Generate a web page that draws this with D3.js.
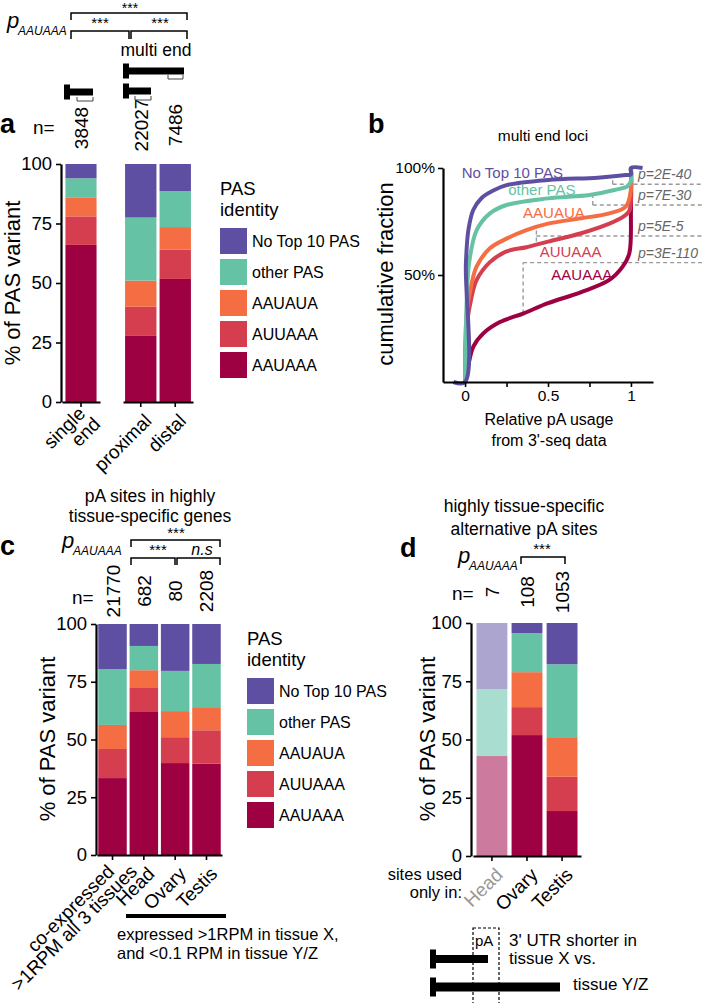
<!DOCTYPE html>
<html>
<head>
<meta charset="utf-8">
<script src="https://cdn.jsdelivr.net/npm/d3@7"></script>
<style>
  body { margin: 0; background: #fff; }
  svg { font-family: "Liberation Sans", Arial, Helvetica, sans-serif; }
</style>
</head>
<body>
<script>
// ---- shared ----
const PAS_KEYS = ["AAUAAA", "AUUAAA", "AAUAUA", "other PAS", "No Top 10 PAS"];
const PAS_COLORS = ["#9e0142", "#d53e4f", "#f46d43", "#66c2a5", "#5e4fa2"];
const PAS_FADED = ["#cc7a9d", "#e59ea7", "#f9b6a1", "#a9ddd0", "#aba5d0"];
const PCT_TICKS = [0, 25, 50, 75, 100];

// ---- panel a ----
const aCats = ["single end", "proximal", "distal"];
const aN = ["3848", "22027", "7486"];
const aAAUAAA = [66, 28, 51.7];
const aAUUAAA = [12, 12, 12.3];
const aAAUAUA = [8, 11, 9.5];
const aOther = [8, 26.5, 15.1];
const aNoTop = [6, 22.5, 11.4];

// ---- panel b (cumulative fraction, [relative usage, %]) ----
const cdfAAUAAA = [[0, 0], [0.01, 4], [0.05, 16.5], [0.11, 22.7], [0.21, 28], [0.35, 32], [0.5, 36.8], [0.7, 42], [0.87, 47.7], [0.95, 53.9], [0.99, 60], [1, 80], [1, 100]];
const cdfAUUAAA = [[0, 0], [0.01, 26], [0.04, 40], [0.07, 47.7], [0.15, 56], [0.25, 61], [0.37, 63], [0.5, 65.6], [0.7, 69.5], [0.87, 74], [0.95, 77], [0.99, 80], [1, 85], [1, 100]];
const cdfAAUAUA = [[0, 0], [0.01, 32], [0.04, 46], [0.07, 54], [0.15, 62.5], [0.25, 67], [0.37, 71], [0.5, 74], [0.7, 76.5], [0.87, 78.8], [0.97, 82], [1, 90], [1, 100]];
const cdfOther = [[0, 0], [0.01, 38], [0.025, 56], [0.07, 71], [0.15, 78.8], [0.25, 82.7], [0.5, 85.8], [0.75, 87.4], [0.9, 89.7], [0.98, 91.5], [1, 94], [1, 100]];
const cdfNoTop = [[-0.07, 0], [0, 0], [0.005, 55], [0.02, 71], [0.05, 80.5], [0.1, 86], [0.17, 89.5], [0.25, 92], [0.5, 94.4], [0.8, 95.5], [0.97, 96.7], [1, 97], [1, 100], [1.07, 100]];
const cdfSeries = [cdfAAUAAA, cdfAUUAAA, cdfAAUAUA, cdfOther, cdfNoTop];
const cdfLabelAt = [[0.52, 47.7], [0.45, 58.4], [0.35, 76.6], [0.26, 87.4], [-0.02, 95.3]];
const pLabels = ["p=2E-40", "p=7E-30", "p=5E-5", "p=3E-110"];
const pX = [0.89, 0.77, 0.43, 0.35];
const pLow = [92.4, 82.7, 65.6, 32];
const pHigh = [96.7, 87.4, 71.8, 55.8];
const pLevel = [92.4, 82.7, 68.2, 55.8];

// ---- panel c ----
const cCats = ["co-expressed", "Head", "Ovary", "Testis"];
const cN = ["21770", "682", "80", "2208"];
const cAAUAAA = [33.3, 61.9, 39.8, 39.6];
const cAUUAAA = [12.6, 10.4, 11.2, 14.4];
const cAAUAUA = [10.4, 7.7, 11.3, 10];
const cOther = [24.2, 10.5, 17.4, 18.7];
const cNoTop = [19.5, 9.5, 20.3, 17.3];

// ---- panel d ----
const dCats = ["Head", "Ovary", "Testis"];
const dN = ["7", "108", "1053"];
const dAAUAAA = [42.9, 51.9, 19.3];
const dAUUAAA = [0, 12, 14.7];
const dAAUAUA = [0, 15, 17];
const dOther = [28.6, 16.8, 31.3];
const dNoTop = [28.5, 4.3, 17.7];

function makeRows(cats, s0, s1, s2, s3, s4) {
  return cats.map((c, i) => {
    const r = { cat: c };
    [s0, s1, s2, s3, s4].forEach((s, k) => (r[PAS_KEYS[k]] = s[i]));
    return r;
  });
}

const svg = d3.select("body").append("svg").attr("width", 702).attr("height", 1003);

function txt(g, x, y, s, size, opts = {}) {
  return g.append("text")
    .attr("x", x).attr("y", y)
    .attr("font-size", size + "px")
    .attr("text-anchor", opts.anchor || "start")
    .attr("font-style", opts.italic ? "italic" : null)
    .attr("font-weight", opts.bold ? "bold" : null)
    .attr("fill", opts.fill || "#000")
    .text(s);
}

function bracket(g, x1, x2, y, tick) {
  g.append("path")
    .attr("d", `M${x1},${y + tick}V${y}H${x2}V${y + tick}`)
    .attr("fill", "none").attr("stroke", "#000").attr("stroke-width", 1.5);
}

function pLabel(g, x, y) {
  txt(g, x, y, "p", 22, { italic: true });
  txt(g, x + 11, y + 7, "AAUAAA", 12, { italic: true });
}

function drawBars(g, rows, x, y, colorFor) {
  const series = d3.stack().keys(PAS_KEYS)(rows);
  series.forEach((s, si) => {
    g.append("g").selectAll("rect").data(s).join("rect")
      .attr("x", d => x(d.data.cat))
      .attr("width", x.bandwidth())
      .attr("y", d => y(d[1]))
      .attr("height", d => Math.max(0, y(d[0]) - y(d[1])))
      .attr("fill", d => colorFor(d.data.cat, si));
  });
}

function styleAxis(ax, size) {
  ax.attr("font-family", null).attr("font-size", null);
  ax.select(".domain").attr("stroke-width", 2.2);
  ax.selectAll(".tick line").attr("stroke-width", 1.6);
  ax.selectAll(".tick text").attr("font-size", size + "px").attr("fill", "#000");
}

function yAxis(g, y, x0) {
  const ax = g.append("g").attr("transform", `translate(${x0},0)`)
    .call(d3.axisLeft(y).tickValues(PCT_TICKS).tickSize(5).tickSizeOuter(0).tickPadding(4));
  styleAxis(ax, 18.5);
}

function xAxis(g, x, y0) {
  const ax = g.append("g").attr("transform", `translate(0,${y0})`)
    .call(d3.axisBottom(x).tickSize(5).tickSizeOuter(0).tickFormat(""));
  styleAxis(ax, 18);
}

// rotated category label; shifts pull earlier lines back along the text
function rotLabel(g, cx, y0, lines, fill, shifts, off, lh) {
  const o = off || [12, 20];
  const step = lh || 15;
  const t = g.append("g").attr("transform", `translate(${cx + o[0]},${y0 + o[1]}) rotate(-45)`);
  lines.forEach((l, i) => {
    t.append("text").attr("x", shifts ? shifts[i] : 0).attr("y", (i - (lines.length - 1) / 2) * step)
      .attr("text-anchor", "end").attr("font-size", "19px").attr("fill", fill || "#000").text(l);
  });
}

function nLabels(g, cats, ns, x, yMid) {
  cats.forEach((c, i) => {
    const cx = x(c) + x.bandwidth() / 2 + 7;
    g.append("text").attr("transform", `translate(${cx},${yMid}) rotate(-90)`)
      .attr("text-anchor", "middle").attr("font-size", "19px").text(ns[i]);
  });
}

function legend(g, x0, y0) {
  txt(g, x0, y0, "PAS", 18.5);
  txt(g, x0, y0 + 21, "identity", 18.5);
  PAS_KEYS.slice().reverse().forEach((k, i) => {
    const yy = y0 + 33 + i * 31;
    g.append("rect").attr("x", x0).attr("y", yy).attr("width", 27).attr("height", 26)
      .attr("fill", PAS_COLORS[PAS_KEYS.indexOf(k)]);
    txt(g, x0 + 32, yy + 19, k, 16);
  });
}

function geneModel(g, x, y, len, h, blockH) {
  g.append("rect").attr("x", x).attr("y", y - blockH / 2).attr("width", 6).attr("height", blockH).attr("fill", "#000");
  g.append("rect").attr("x", x).attr("y", y - h / 2).attr("width", len).attr("height", h).attr("fill", "#000");
}

function utrMark(g, x1, x2, y) {
  g.append("path").attr("d", `M${x1},${y}V${y + 4}H${x2}V${y}`)
    .attr("fill", "none").attr("stroke", "#444").attr("stroke-width", 1);
}

// ================= panel a =================
const ga = svg.append("g");
const yA = d3.scaleLinear().domain([0, 100]).range([402, 164]);
const xA1 = d3.scaleBand().domain(aCats.slice(0, 1)).range([62, 100]).paddingInner(0.1).paddingOuter(0.1);
const xA2 = d3.scaleBand().domain(aCats.slice(1)).range([123, 193]).paddingInner(0.09).paddingOuter(0.06);
const aRows = makeRows(aCats, aAAUAAA, aAUUAAA, aAAUAUA, aOther, aNoTop);
drawBars(ga, aRows.slice(0, 1), xA1, yA, (c, si) => PAS_COLORS[si]);
drawBars(ga, aRows.slice(1), xA2, yA, (c, si) => PAS_COLORS[si]);
yAxis(ga, yA, 61);
xAxis(ga, xA1, 402);
xAxis(ga, xA2, 402);
rotLabel(ga, xA1("single end") + xA1.bandwidth() / 2, 402, ["single", "end"], null, [-3, 0], [14, 17], 18);
rotLabel(ga, xA2("proximal") + xA2.bandwidth() / 2, 402, ["proximal"]);
rotLabel(ga, xA2("distal") + xA2.bandwidth() / 2, 402, ["distal"]);
ga.append("text").attr("transform", "translate(20,283) rotate(-90)")
  .attr("text-anchor", "middle").attr("font-size", "22px").text("% of PAS variant");
txt(ga, 0, 133, "a", 27, { bold: true });
txt(ga, 33, 134, "n=", 19);
nLabels(ga, aCats.slice(0, 1), aN.slice(0, 1), xA1, 128);
nLabels(ga, aCats.slice(1), aN.slice(1), xA2, 125);
legend(ga, 220, 195);
// significance brackets
pLabel(ga, 7, 28);
bracket(ga, 71, 187, 13, 7);
bracket(ga, 71, 129, 31, 8);
bracket(ga, 131, 187, 31, 8);
txt(ga, 130, 13, "***", 14, { anchor: "middle" });
txt(ga, 100, 28, "***", 15, { anchor: "middle" });
txt(ga, 160, 28, "***", 15, { anchor: "middle" });
txt(ga, 156, 56, "multi end", 17.5, { anchor: "middle" });
geneModel(ga, 123, 71, 61, 7, 15);
utrMark(ga, 168, 183, 75);
geneModel(ga, 123, 91, 28, 7, 15);
utrMark(ga, 135, 151, 96);
geneModel(ga, 64, 92, 29, 7, 15);
utrMark(ga, 77, 93, 97);

// ================= panel b =================
const gb = svg.append("g");
const xB = d3.scaleLinear().domain([-0.133, 1.133]).range([443, 653]);
const yB = d3.scaleLinear().domain([0, 100]).range([382, 168]);
txt(gb, 368, 133, "b", 27, { bold: true });
txt(gb, 543, 141, "multi end loci", 15.5, { anchor: "middle" });
// dashed guides
pLabels.forEach((l, i) => {
  gb.append("line").attr("x1", xB(pX[i])).attr("x2", xB(pX[i]))
    .attr("y1", yB(pLow[i])).attr("y2", yB(pHigh[i]))
    .attr("stroke", "#9a9a9a").attr("stroke-width", 1.4).attr("stroke-dasharray", "4,3");
  gb.append("line").attr("x1", xB(pX[i])).attr("x2", 702)
    .attr("y1", yB(pLevel[i])).attr("y2", yB(pLevel[i]))
    .attr("stroke", "#9a9a9a").attr("stroke-width", 1.4).attr("stroke-dasharray", "4,3");
  txt(gb, 638, yB(pLevel[i]) - 5, l, 14, { italic: true, fill: "#666" });
});
const lineB = d3.line().x(d => xB(d[0])).y(d => yB(d[1])).curve(d3.curveCatmullRom.alpha(0.5));
cdfSeries.forEach((s, i) => {
  gb.append("path").attr("d", lineB(s)).attr("fill", "none")
    .attr("stroke", PAS_COLORS[i]).attr("stroke-width", 4).attr("stroke-linejoin", "round");
});
PAS_KEYS.forEach((k, i) => {
  txt(gb, xB(cdfLabelAt[i][0]), yB(cdfLabelAt[i][1]), k, 15, { fill: PAS_COLORS[i] });
});
const axBy = gb.append("g").attr("transform", "translate(443,0)")
  .call(d3.axisLeft(yB).tickValues([50, 100]).tickFormat(d => d + "%").tickSize(5).tickSizeOuter(0));
styleAxis(axBy, 15.5);
const axBx = gb.append("g").attr("transform", "translate(0,382)")
  .call(d3.axisBottom(xB).tickValues([0, 0.25, 0.5, 0.75, 1])
    .tickFormat(d => (d === 0 || d === 0.5 || d === 1 ? String(d) : "")).tickSize(5).tickSizeOuter(0));
styleAxis(axBx, 15.5);
gb.append("text").attr("transform", "translate(393,274) rotate(-90)")
  .attr("text-anchor", "middle").attr("font-size", "22px").text("cumulative fraction");
txt(gb, 549, 425, "Relative pA usage", 16, { anchor: "middle" });
txt(gb, 549, 446, "from 3'-seq data", 16, { anchor: "middle" });

// ================= panel c =================
const gc = svg.append("g");
const yC = d3.scaleLinear().domain([0, 100]).range([855, 624]);
const xC = d3.scaleBand().domain(cCats).range([97, 222]).paddingInner(0.09).paddingOuter(0.04);
drawBars(gc, makeRows(cCats, cAAUAAA, cAUUAAA, cAAUAUA, cOther, cNoTop), xC, yC, (c, si) => PAS_COLORS[si]);
yAxis(gc, yC, 96);
xAxis(gc, xC, 855);
rotLabel(gc, xC("co-expressed") + xC.bandwidth() / 2, 855, ["co-expressed", ">1RPM all 3 tissues"], null, [-16, 0], [20, 12], 16);
["Head", "Ovary", "Testis"].forEach(c => rotLabel(gc, xC(c) + xC.bandwidth() / 2, 855, [c]));
gc.append("text").attr("transform", "translate(55,739) rotate(-90)")
  .attr("text-anchor", "middle").attr("font-size", "22px").text("% of PAS variant");
txt(gc, 150, 502, "pA sites in highly", 17.5, { anchor: "middle" });
txt(gc, 150, 522, "tissue-specific genes", 17.5, { anchor: "middle" });
txt(gc, 0, 555, "c", 27, { bold: true });
pLabel(gc, 62, 548);
bracket(gc, 131, 220, 540, 7);
bracket(gc, 131, 175, 558, 7);
bracket(gc, 177, 220, 558, 7);
txt(gc, 176, 538, "***", 15, { anchor: "middle" });
txt(gc, 158, 555, "***", 15, { anchor: "middle" });
txt(gc, 202, 555, "n.s", 16, { anchor: "middle", italic: true });
txt(gc, 72, 604, "n=", 19);
nLabels(gc, cCats, cN, xC, 591);
legend(gc, 247, 645);
gc.append("rect").attr("x", 126).attr("y", 914).attr("width", 100).attr("height", 4).attr("fill", "#000");
txt(gc, 117, 940, "expressed >1RPM in tissue X,", 16.5);
txt(gc, 117, 959, "and <0.1 RPM in tissue Y/Z", 16.5);

// ================= panel d =================
const gd = svg.append("g");
const yD = d3.scaleLinear().domain([0, 100]).range([856, 623]);
const xD = d3.scaleBand().domain(dCats).range([473, 581]).paddingInner(0.12).paddingOuter(0.1);
drawBars(gd, makeRows(dCats, dAAUAAA, dAUUAAA, dAAUAUA, dOther, dNoTop), xD, yD,
  (c, si) => (c === "Head" ? PAS_FADED[si] : PAS_COLORS[si]));
yAxis(gd, yD, 471);
xAxis(gd, xD, 856);
dCats.forEach(c => rotLabel(gd, xD(c) + xD.bandwidth() / 2, 856, [c], c === "Head" ? "#999" : "#000"));
gd.append("text").attr("transform", "translate(435,739) rotate(-90)")
  .attr("text-anchor", "middle").attr("font-size", "22px").text("% of PAS variant");
txt(gd, 524, 512, "highly tissue-specific", 17.5, { anchor: "middle" });
txt(gd, 524, 535, "alternative pA sites", 17.5, { anchor: "middle" });
txt(gd, 400, 557, "d", 27, { bold: true });
pLabel(gd, 458, 563);
bracket(gd, 521, 565, 557, 7);
txt(gd, 542, 554, "***", 15, { anchor: "middle" });
txt(gd, 452, 600, "n=", 19);
nLabels(gd, dCats, dN, xD, 592);
txt(gd, 462, 880, "sites used", 16.5, { anchor: "end" });
txt(gd, 462, 898, "only in:", 16.5, { anchor: "end" });
// 3' UTR sketch
geneModel(gd, 430, 959, 58, 8, 19);
geneModel(gd, 430, 987, 130, 9, 19);
gd.append("rect").attr("x", 473).attr("y", 928).attr("width", 26).attr("height", 80)
  .attr("fill", "none").attr("stroke", "#000").attr("stroke-width", 1.2).attr("stroke-dasharray", "3,2");
txt(gd, 475, 946, "pA", 15);
txt(gd, 509, 946, "3' UTR shorter in", 17);
txt(gd, 509, 964, "tissue X vs.", 17);
txt(gd, 573, 990, "tissue Y/Z", 17);
</script>
</body>
</html>
